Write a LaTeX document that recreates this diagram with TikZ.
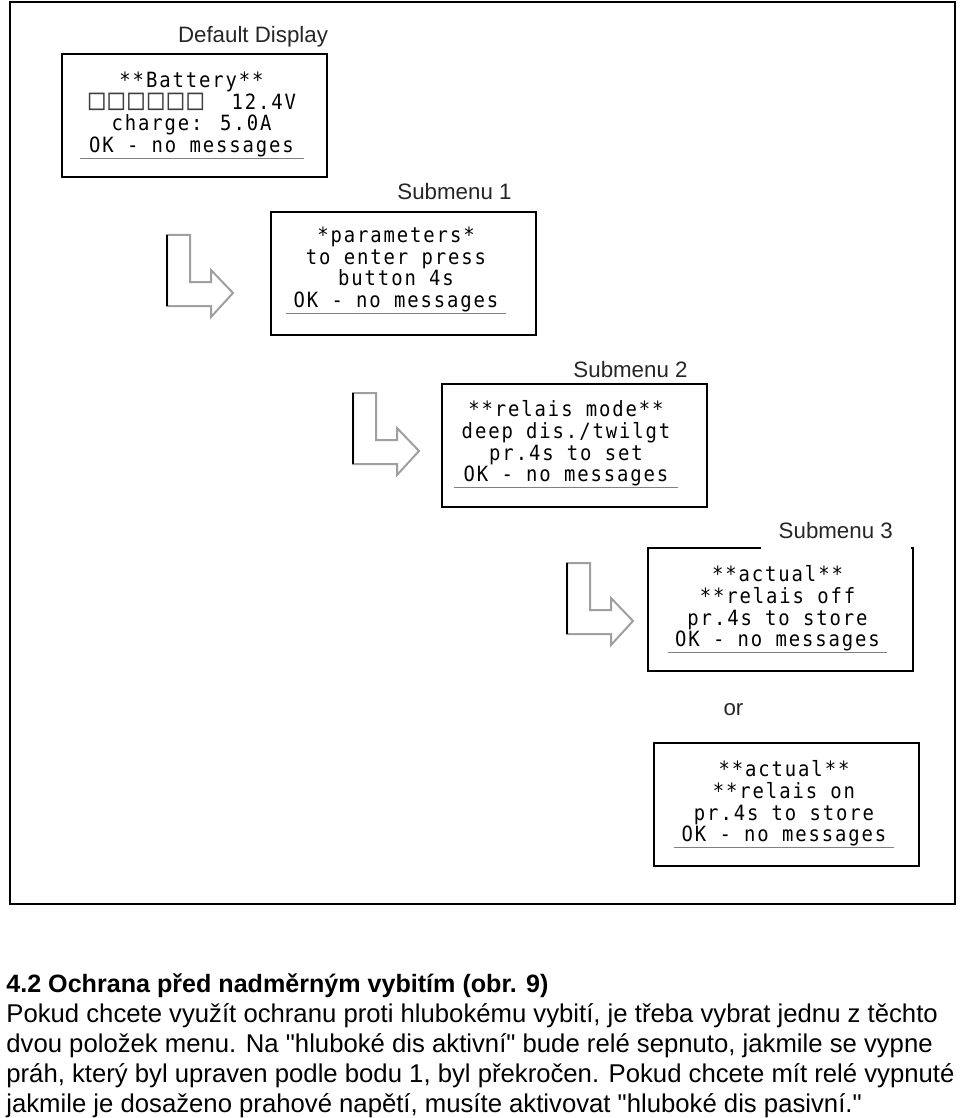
\documentclass[tikz,border=0pt]{standalone}
\usepackage{fontspec}
\setmainfont{Liberation Sans}
\newfontfamily\lcdfont[LetterSpace=9, FakeStretch=0.9]{DejaVu Sans Mono}
\newcommand\sq{\makebox[9.85pt][c]{\textcolor{black!75}{\scalebox{1.4}{□}}}}
\newcommand\qt{\textquotedbl}

\tikzset{
  lcdbox/.style={draw, line width=1pt, minimum width=132.5pt, minimum height=61.5pt, inner sep=0pt},
  lcdtext/.style={font=\lcdfont\fontsize{10.5pt}{10.85pt}\selectfont, align=center, inner xsep=3.5pt, inner ysep=0.5pt, text=black},
  uline/.style={draw=gray, line width=0.7pt},
  title/.style={font=\fontsize{11.15pt}{13pt}\selectfont, text=black!85, anchor=base, inner sep=0pt},
  hollow/.style={draw=gray!75, line width=1pt, line join=miter},
  body/.style={font=\fontsize{12.85pt}{15pt}\selectfont, anchor=base west, inner sep=0pt},
  head/.style={body, font=\fontsize{12.55pt}{15pt}\selectfont\bfseries}
}

\begin{document}
\begin{tikzpicture}[x=0.5pt, y=-0.5pt]
	\useasboundingbox (0,0) rectangle (960,1118);
	\draw[line width=1pt] (10,2) rectangle (955,904);
	% display boxes
	\node[lcdbox] (b0) at (194.5,115.5) {};
	\node[lcdbox] (b1) at (403.5,273.5) {};
	\node[lcdbox] (b2) at (574,445) {};
	\node[lcdbox] (b3) at (780,609) {};
	\node[lcdbox] (b4) at (786.5,804.5) {};
	% display contents
	\node[lcdtext] (t0) at (191.5,114.5) {**Battery**\\\sq\sq\sq\sq\sq\sq~~12.4V\\charge: 5.0A\\OK - no messages};
	\node[lcdtext] (t1) at (396,269.5) {*parameters*\\to enter press\\button 4s\\OK - no messages};
	\node[lcdtext] (t2) at (566,443.5) {**relais mode**\\deep dis./twilgt\\pr.4s to set\\OK - no messages};
	\node[lcdtext] (t3) at (777.5,608.5) {**actual**\\**relais off\\pr.4s to store\\OK - no messages};
	\node[lcdtext] (t4) at (784,803.5) {**actual**\\**relais on\\pr.4s to store\\OK - no messages};
	\foreach \t in {t0,t1,t2,t3,t4} {\draw[uline] (\t.south west) -- (\t.south east);}
	% captions
	\node[title] (l0) at (253,43) {Default Display};
	\node[title] (l1) at (454.5,200) {Submenu 1};
	\node[title] (l2) at (630.5,377) {Submenu 2};
	\node[title, fill=white, anchor=center, minimum width=74.75pt, minimum height=20pt] (l3) at (835.75,531) {Submenu 3};
	\node[title] (alt) at (733.5,715) {or};
	% bent arrows
	\foreach \ax/\ay in {167/235, 353/393, 567/563} {
		\draw[hollow] (\ax,\ay) -- ++(23,0) -- ++(0,47) -- ++(21,0) -- ++(0,-12) -- ++(22,23) -- ++(-22,24) -- ++(0,-11) -- ++(-44,0) -- cycle;
		\draw[line width=1pt] (\ax,\ay) -- ++(0,71);
	}
	% text below the figure
	\node[head] (p0) at (6,992) {4.2 Ochrana před nadměrným vybitím (obr. 9)};
	\node[body] (p1) at (6,1022) {Pokud chcete využít ochranu proti hlubokému vybití, je třeba vybrat jednu z těchto};
	\node[body] (p2) at (6,1052) {dvou položek menu. Na \qt hluboké dis aktivní\qt{} bude relé sepnuto, jakmile se vypne};
	\node[body] (p3) at (6,1082) {práh, který byl upraven podle bodu 1, byl překročen. Pokud chcete mít relé vypnuté};
	\node[body] (p4) at (6,1112) {jakmile je dosaženo prahové napětí, musíte aktivovat \qt hluboké dis pasivní.\qt};
\end{tikzpicture}
\end{document}
